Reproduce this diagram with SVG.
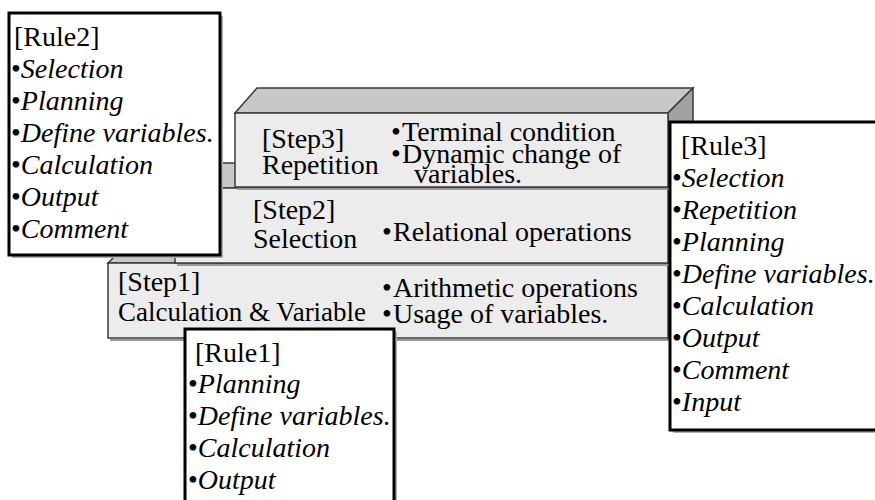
<svg xmlns="http://www.w3.org/2000/svg" width="875" height="500" viewBox="0 0 875 500">
<defs>
<style>
.front{fill:#ececec;stroke:#3a3a3a;stroke-width:1.5}
.top{fill:#c8c8c8;stroke:#3a3a3a;stroke-width:1.5}
.side{fill:#a2a2a2;stroke:#3a3a3a;stroke-width:1.5}
.rule{fill:#ffffff;stroke:#000000;stroke-width:3}
.rshadow{fill:#b0b0b0;stroke:none}
.shadow{fill:none;stroke:#9a9a9a;stroke-width:2}
.it{font-style:italic}
</style>
</defs>
<g font-family="'Liberation Serif', 'DejaVu Serif', serif" font-size="28" fill="#000">
<g id="connectors"/>
<g id="step1">
<line class="shadow" x1="110" y1="340" x2="670" y2="340"/>
<polygon class="top" points="108,263 133,238 693,238 668,263"/>
<polygon class="side" points="668,263 693,238 693,313 668,338"/>
<rect class="front" x="108" y="263" width="560" height="75"/>
<text x="118" y="291">[Step1]</text>
<text x="118" y="321" textLength="248" lengthAdjust="spacingAndGlyphs">Calculation &amp; Variable</text>
<text x="382" y="297">•</text><text x="393" y="297">Arithmetic operations</text>
<text x="382" y="323">•</text><text x="393" y="323">Usage of variables.</text>
</g>
<g id="step2">
<line class="shadow" x1="177" y1="265" x2="670" y2="265"/>
<polygon class="top" points="175,188 200,163 693,163 668,188"/>
<polygon class="side" points="668,188 693,163 693,238 668,263"/>
<rect class="front" x="175" y="188" width="493" height="75"/>
<text x="253" y="219">[Step2]</text>
<text x="253" y="248">Selection</text>
<text x="382" y="241">•</text><text x="393" y="241">Relational operations</text>
</g>
<g id="step3">
<line class="shadow" x1="237" y1="189" x2="670" y2="189"/>
<polygon class="top" points="235,113 257,88 693,88 668,113"/>
<polygon class="side" points="668,113 693,88 693,163 668,187"/>
<rect class="front" x="235" y="113" width="433" height="74"/>
<text x="262" y="148">[Step3]</text>
<text x="262" y="174">Repetition</text>
<text x="391" y="141">•</text><text x="402" y="141">Terminal condition</text>
<text x="391" y="163">•</text><text x="402" y="163">Dynamic change of</text>
<text x="414" y="183">variables.</text>
</g>
<g id="rule2">
<rect class="rshadow" x="12" y="16" width="211" height="242"/>
<rect class="rule" x="9" y="13" width="211" height="242"/>
<text x="14" y="46">[Rule2]</text>
<text x="11" y="78">•<tspan class="it">Selection</tspan></text>
<text x="11" y="110">•<tspan class="it">Planning</tspan></text>
<text x="11" y="142">•<tspan class="it">Define variables.</tspan></text>
<text x="11" y="174">•<tspan class="it">Calculation</tspan></text>
<text x="11" y="206">•<tspan class="it">Output</tspan></text>
<text x="11" y="238">•<tspan class="it">Comment</tspan></text>
</g>
<g id="rule1">
<rect class="rshadow" x="188" y="332" width="209" height="185"/>
<rect class="rule" x="185" y="329" width="209" height="185"/>
<text x="195" y="362">[Rule1]</text>
<text x="188" y="393">•<tspan class="it">Planning</tspan></text>
<text x="188" y="425">•<tspan class="it">Define variables.</tspan></text>
<text x="188" y="457">•<tspan class="it">Calculation</tspan></text>
<text x="188" y="489">•<tspan class="it">Output</tspan></text>
</g>
<g id="rule3">
<rect class="rshadow" x="673" y="125" width="210" height="308"/>
<rect class="rule" x="670" y="122" width="210" height="308"/>
<text x="681" y="155">[Rule3]</text>
<text x="672" y="187">•<tspan class="it">Selection</tspan></text>
<text x="672" y="219">•<tspan class="it">Repetition</tspan></text>
<text x="672" y="251">•<tspan class="it">Planning</tspan></text>
<text x="672" y="283">•<tspan class="it">Define variables.</tspan></text>
<text x="672" y="315">•<tspan class="it">Calculation</tspan></text>
<text x="672" y="347">•<tspan class="it">Output</tspan></text>
<text x="672" y="379">•<tspan class="it">Comment</tspan></text>
<text x="672" y="411">•<tspan class="it">Input</tspan></text>
</g>
</g>
</svg>
